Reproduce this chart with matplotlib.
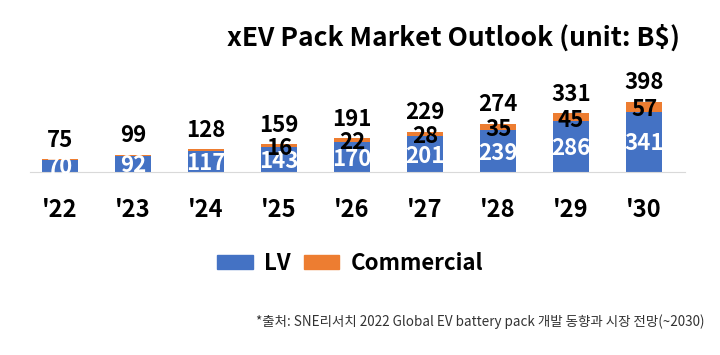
import matplotlib
matplotlib.use("Agg")
from matplotlib import pyplot as plt
from matplotlib.patches import Patch
import numpy as np

plt.rcParams['font.family'] = ['Noto Sans CJK KR', 'DejaVu Sans']

years = ["'22", "'23", "'24", "'25", "'26", "'27", "'28", "'29", "'30"]
lv = [70, 92, 117, 143, 170, 201, 239, 286, 341]
commercial = [5, 7, 11, 16, 22, 28, 35, 45, 57]
totals = [75, 99, 128, 159, 191, 229, 274, 331, 398]

blue = '#4472C4'
orange = '#ED7D31'

fig = plt.figure(figsize=(7.2, 3.55), dpi=100)
ax = fig.add_axes([30 / 720, 183 / 355, 655 / 720, 152 / 355])

x = np.arange(len(years))
w = 0.49
lv_bars = ax.bar(x, lv, w, color=blue)
ax.bar(x, commercial, w, bottom=lv, color=orange)

# LV labels are cut off by their bar, as in the source image
for i in range(len(years)):
    t = ax.text(x[i], lv[i] / 2 - 12, str(lv[i]), ha='center', va='center',
                color='white', fontsize=16, fontweight='bold')
    t.set_clip_path(lv_bars[i])
    if commercial[i] >= 16:
        ax.text(x[i], lv[i] + commercial[i] / 2 - 16, str(commercial[i]), ha='center',
                va='center', color='black', fontsize=16, fontweight='bold')
    ax.text(x[i], totals[i] + 106, str(totals[i]), ha='center', va='center',
            color='black', fontsize=16, fontweight='bold')

ax.set_xlim(-0.411, 8.56)
ax.set_ylim(0, 860)
ax.set_yticks([])
ax.set_xticks(x)
ax.set_xticklabels(years, fontsize=17, fontweight='bold')
ax.tick_params(axis='x', length=0, pad=19)
for s in ['top', 'right', 'left']:
    ax.spines[s].set_visible(False)
ax.spines['bottom'].set_color('#d9d9d9')

fig.text(680 / 720, 1 - 38 / 355, 'xEV Pack Market Outlook (unit: B$)', ha='right',
         va='center', fontsize=19, fontweight='bold')

handles = [Patch(color=blue, label='LV'), Patch(color=orange, label='Commercial')]
fig.legend(handles=handles, loc='center', bbox_to_anchor=(350 / 720, 1 - 263 / 355),
           ncol=2, frameon=False, prop={'size': 16, 'weight': 'bold'},
           handlelength=1.6, handleheight=0.6, columnspacing=0.6, handletextpad=0.5)

fig.text(705 / 720, 1 - 322 / 355,
         '*출처: SNE리서치 2022 Global EV battery pack 개발 동향과 시장 전망(~2030)',
         ha='right', va='center', fontsize=9.7, color='#333333')

fig.savefig('out.png', dpi=100)
